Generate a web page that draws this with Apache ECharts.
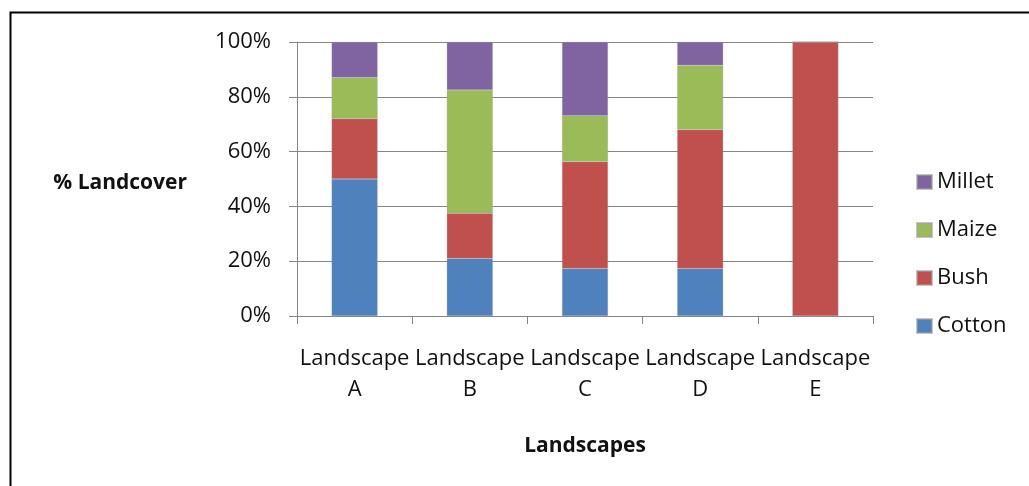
<!DOCTYPE html>
<html>
<head>
<meta charset="utf-8">
<script src="https://cdn.jsdelivr.net/npm/echarts@6/dist/echarts.min.js"></script>
<style>
html,body{margin:0;padding:0;background:#fff;}
#chart{width:1029px;height:486px;}
</style>
</head>
<body>
<div id="chart"></div>
<script>
const categories = ['Landscape\nA', 'Landscape\nB', 'Landscape\nC', 'Landscape\nD', 'Landscape\nE'];
const cotton = [50, 21, 17.3, 17.3, 0];
const bush = [22, 16.5, 39, 50.7, 100];
const maize = [15, 45, 16.8, 23.5, 0];
const millet = [13, 17.5, 26.9, 8.5, 0];
const yTicks = [0, 20, 40, 60, 80, 100];

const FONT = '"Open Sans", "DejaVu Sans", sans-serif';
const chart = echarts.init(document.getElementById('chart'));

function mk(name, data, color) {
  return {
    name: name, type: 'bar', stack: 'total', data: data, barWidth: 46,
    itemStyle: { color: color, borderColor: 'rgba(160,160,160,0.6)', borderWidth: 0.5 },
    emphasis: { disabled: true }
  };
}

chart.setOption({
  animation: false,
  backgroundColor: '#fff',
  textStyle: { fontFamily: FONT },
  grid: { left: 297, right: 156, top: 42, bottom: 170, containLabel: false },
  legend: {
    orient: 'vertical', left: 916, top: 171, padding: 0,
    data: ['Millet', 'Maize', 'Bush', 'Cotton'],
    itemWidth: 15, itemHeight: 14, itemGap: 26,
    icon: 'rect',
    textStyle: { fontFamily: FONT, fontSize: 22, color: '#111', lineHeight: 22 }
  },
  xAxis: {
    type: 'category', data: categories,
    name: 'Landscapes', nameLocation: 'middle', nameGap: 120,
    nameTextStyle: { fontFamily: FONT, fontSize: 21, fontWeight: 'bold', color: '#111' },
    axisLine: { lineStyle: { color: '#868686', width: 1 } },
    axisTick: { show: true, length: 8, lineStyle: { color: '#868686' } },
    axisLabel: { interval: 0, fontSize: 22, color: '#111', margin: 27, lineHeight: 31, fontFamily: FONT }
  },
  yAxis: {
    type: 'value', min: 0, max: 100, interval: 20,
    axisLine: { show: true, lineStyle: { color: '#868686', width: 1 } },
    axisTick: { show: true, length: 8, lineStyle: { color: '#868686' } },
    splitLine: { lineStyle: { color: '#868686', width: 1 } },
    axisLabel: {
      fontSize: 22, color: '#111', margin: 26, fontFamily: FONT,
      formatter: function (v) { return yTicks.indexOf(v) >= 0 ? v + '%' : ''; }
    }
  },
  graphic: [{
    type: 'rect', left: 8, top: 10, z: 100,
    shape: { x: 0, y: 0, width: 1100, height: 600 },
    style: { fill: 'none', stroke: '#000', lineWidth: 2 },
    silent: true
  }, {
    type: 'text', x: 187, y: 183,
    style: {
      text: '% Landcover', fontFamily: FONT, fontSize: 21, fontWeight: 'bold',
      fill: '#111', align: 'right', verticalAlign: 'middle'
    }
  }],
  series: [
    mk('Cotton', cotton, '#4F81BD'),
    mk('Bush', bush, '#C0504D'),
    mk('Maize', maize, '#9BBB59'),
    mk('Millet', millet, '#8064A2')
  ]
});
</script>
</body>
</html>
